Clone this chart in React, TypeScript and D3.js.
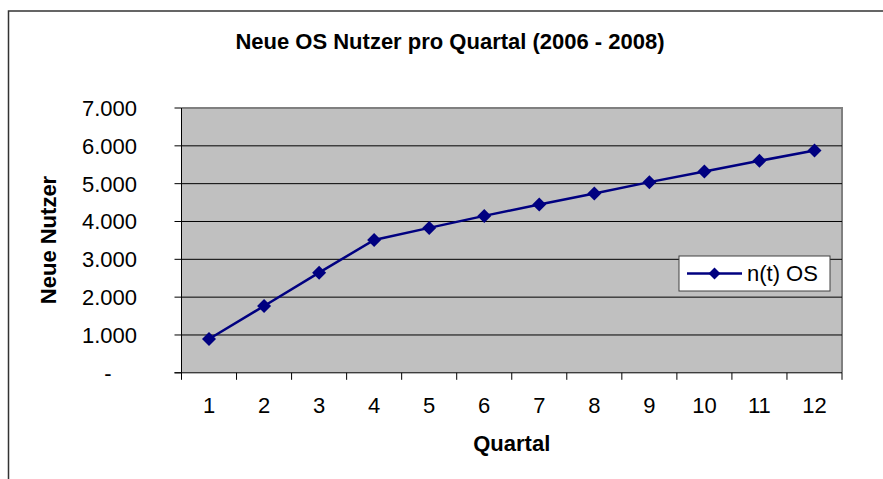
import React from "react";
import * as d3 from "d3";

const categories = ["1", "2", "3", "4", "5", "6", "7", "8", "9", "10", "11", "12"];
const values = [894, 1767, 2648, 3513, 3831, 4148, 4447, 4738, 5040, 5320, 5603, 5876];
const yTicks = [0, 1000, 2000, 3000, 4000, 5000, 6000, 7000];
const seriesName = "n(t) OS";
const title = "Neue OS Nutzer pro Quartal (2006 - 2008)";
const xTitle = "Quartal";
const yTitle = "Neue Nutzer";

const W = 883;
const H = 479;
const plot = { left: 181.5, top: 108, right: 842, bottom: 372.8 };
const FONT = "'Liberation Sans', Arial, sans-serif";
const NAVY = "#000080";
const FS = 22;

const fmt = (v: number) => (v === 0 ? "-" : d3.format(",")(v).replace(/,/g, "."));

function diamond(cx: number, cy: number, r: number) {
  return `M${cx},${cy - r}L${cx + r},${cy}L${cx},${cy + r}L${cx - r},${cy}Z`;
}

export default function App() {
  const x = d3.scaleBand<string>().domain(categories).range([plot.left, plot.right]).padding(0);
  const y = d3.scaleLinear().domain([0, 7000]).range([plot.bottom, plot.top]);
  const cx = (c: string) => (x(c) as number) + x.bandwidth() / 2;

  const line = d3
    .line<number>()
    .x((_, i) => cx(categories[i]))
    .y((d) => y(d));

  const boundaries = categories.map((c) => x(c) as number).concat([plot.right]);

  const leg = { x: 679, y: 256, w: 151, h: 35 };

  return (
    <svg
      width={W}
      height={H}
      style={{ position: "absolute", left: 0, top: 0, display: "block", background: "#fff" }}
      fontFamily={FONT}
    >
      {/* outer frame */}
      <rect x={8.5} y={11} width={W + 20} height={H + 20} fill="#fff" stroke="#333" strokeWidth={1.5} />

      {/* title */}
      <text x={450} y={49} textAnchor="middle" fontSize={FS} fontWeight="bold" fill="#000">
        {title}
      </text>

      {/* plot area */}
      <rect
        x={plot.left}
        y={plot.top}
        width={plot.right - plot.left}
        height={plot.bottom - plot.top}
        fill="#c0c0c0"
      />
      <path
        d={`M${plot.left},${plot.top}H${plot.right}V${plot.bottom}`}
        fill="none"
        stroke="#808080"
        strokeWidth={2}
      />

      {/* gridlines */}
      {yTicks
        .filter((t) => t !== 0 && t !== 7000)
        .map((t) => (
          <line key={t} x1={plot.left} x2={plot.right} y1={y(t)} y2={y(t)} stroke="#000" strokeWidth={1} />
        ))}

      {/* y axis */}
      <line x1={plot.left} x2={plot.left} y1={plot.top} y2={plot.bottom} stroke="#000" strokeWidth={1} />
      {yTicks.map((t) => (
        <g key={t}>
          <line x1={plot.left - 7} x2={plot.left} y1={y(t)} y2={y(t)} stroke="#000" strokeWidth={1} />
          <text
            x={t === 0 ? 108 : 137}
            y={y(t)}
            dy="0.36em"
            textAnchor={t === 0 ? "middle" : "end"}
            fontSize={FS}
            fill="#000"
          >
            {fmt(t)}
          </text>
        </g>
      ))}

      {/* x axis */}
      <line x1={plot.left - 7} x2={plot.right} y1={plot.bottom} y2={plot.bottom} stroke="#000" strokeWidth={1} />
      {boundaries.map((b, i) => (
        <line key={i} x1={b} x2={b} y1={plot.bottom} y2={plot.bottom + 7} stroke="#000" strokeWidth={1} />
      ))}
      {categories.map((c) => (
        <text key={c} x={cx(c)} y={413} textAnchor="middle" fontSize={FS} fill="#000">
          {c}
        </text>
      ))}

      {/* axis titles */}
      <text x={(plot.left + plot.right) / 2} y={451} textAnchor="middle" fontSize={FS} fontWeight="bold" fill="#000">
        {xTitle}
      </text>
      <text
        transform={`translate(56,240) rotate(-90)`}
        textAnchor="middle"
        fontSize={FS}
        fontWeight="bold"
        fill="#000"
      >
        {yTitle}
      </text>

      {/* series */}
      <path d={line(values) || ""} fill="none" stroke={NAVY} strokeWidth={2.5} />
      {values.map((v, i) => (
        <path key={i} d={diamond(cx(categories[i]), y(v), 7)} fill={NAVY} />
      ))}

      {/* legend */}
      <rect x={leg.x} y={leg.y} width={leg.w} height={leg.h} fill="#fff" stroke="#404040" strokeWidth={1} />
      <line x1={leg.x + 8} x2={leg.x + 63} y1={leg.y + leg.h / 2} y2={leg.y + leg.h / 2} stroke={NAVY} strokeWidth={2.5} />
      <path d={diamond(leg.x + 35.5, leg.y + leg.h / 2, 6)} fill={NAVY} />
      <text x={leg.x + 68} y={leg.y + leg.h / 2} dy="0.36em" fontSize={FS} fill="#000">
        {seriesName}
      </text>
    </svg>
  );
}
